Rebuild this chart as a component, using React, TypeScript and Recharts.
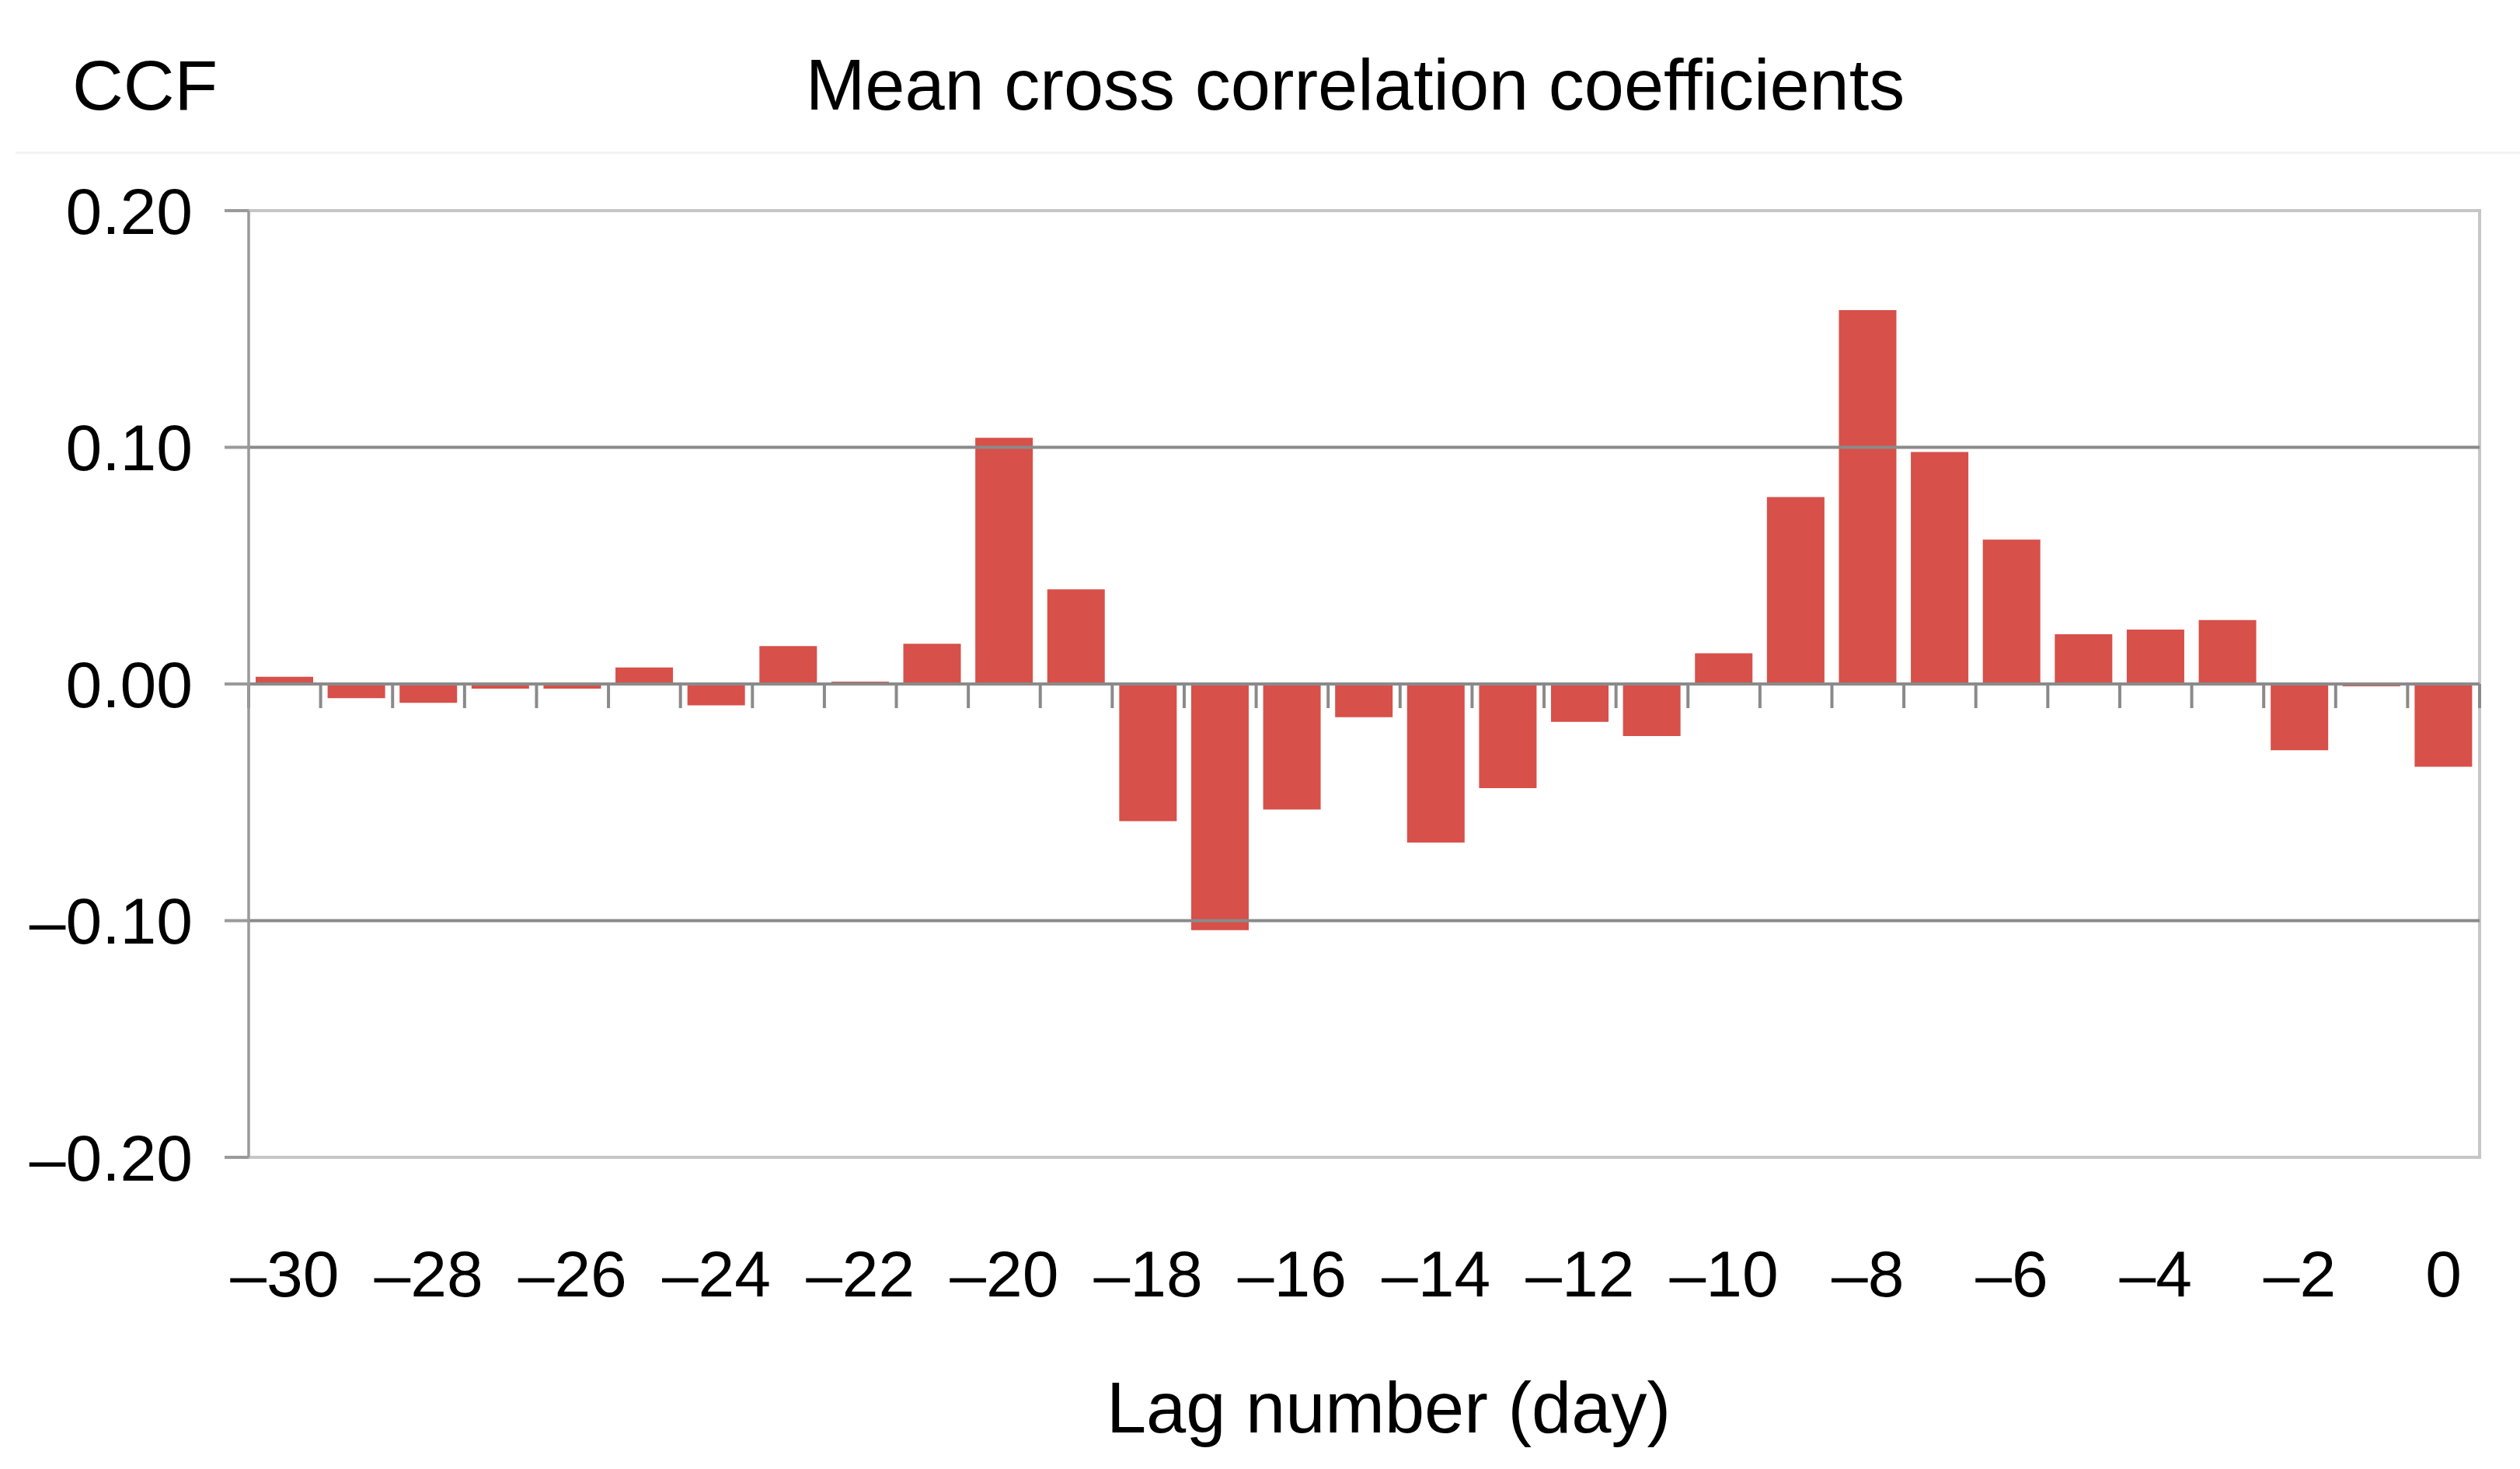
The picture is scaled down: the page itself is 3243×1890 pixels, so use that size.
import {
  Bar,
  BarChart,
  ReferenceArea,
  ReferenceLine,
  XAxis,
  YAxis,
} from "recharts";

// lag in days
const lags = [
  -30, -29, -28, -27, -26, -25, -24, -23, -22, -21, -20, -19, -18, -17, -16,
  -15, -14, -13, -12, -11, -10, -9, -8, -7, -6, -5, -4, -3, -2, -1, 0,
];

const ccf = [
  0.003, -0.006, -0.008, -0.002, -0.002, 0.007, -0.009, 0.016, 0.001, 0.017,
  0.104, 0.04, -0.058, -0.104, -0.053, -0.014, -0.067, -0.044, -0.016, -0.022,
  0.013, 0.079, 0.158, 0.098, 0.061, 0.021, 0.023, 0.027, -0.028, -0.001,
  -0.035,
];

const xTicks = [-30, -28, -26, -24, -22, -20, -18, -16, -14, -12, -10, -8, -6, -4, -2, 0];
const yTicks = [-0.2, -0.1, 0, 0.1, 0.2];
const gridValues = [-0.1, 0.1];

const data = lags.map((lag, i) => ({ lag, ccf: ccf[i] }));
// category boundaries for the little tick marks on the zero line
const boundaries = [...lags.map((l) => l - 0.5), lags[lags.length - 1] + 0.5];

const W = 3243;
const H = 1890;
const FONT = "'Liberation Sans', Arial, sans-serif";
const TICK_DROP = 0.0102;

const minus = (s: string, neg: boolean) => (neg ? "\u2013" : "") + s;
const fmtY = (v: number) => minus(Math.abs(v).toFixed(2), v < 0);
const fmtX = (v: number) => minus(String(Math.abs(v)), v < 0);

export default function App() {
  return (
    <div
      style={{
        position: "absolute",
        left: 0,
        top: 0,
        width: W,
        height: H,
        background: "#fff",
        fontFamily: FONT,
      }}
    >
      <BarChart
        width={W}
        height={H}
        data={data}
        margin={{ top: 271, right: 52, left: 0, bottom: 0 }}
      >
        <ReferenceArea
          x1={-30.5}
          x2={0.5}
          y1={-0.2}
          y2={0.2}
          fill="none"
          fillOpacity={0}
          stroke="#c6c6c6"
          strokeWidth={4}
        />
        {gridValues.map((v) => (
          <ReferenceLine key={v} y={v} stroke="#8a8a8a" strokeWidth={4} />
        ))}
        <XAxis
          type="number"
          dataKey="lag"
          domain={[-30.5, 0.5]}
          ticks={xTicks}
          tickFormatter={fmtX}
          axisLine={false}
          tickLine={false}
          tickSize={0}
          tickMargin={119}
          height={401}
          interval={0}
          tick={{ fill: "#000", fontSize: 84, fontFamily: FONT }}
        />
        <YAxis
          domain={[-0.2, 0.2]}
          ticks={yTicks}
          tickFormatter={fmtY}
          width={320}
          tickSize={31}
          tickMargin={41}
          interval={0}
          axisLine={{ stroke: "#9a9a9a", strokeWidth: 3 }}
          tickLine={{ stroke: "#9a9a9a", strokeWidth: 4 }}
          tick={{ fill: "#000", fontSize: 84, fontFamily: FONT }}
        />
        <Bar
          dataKey="ccf"
          fill="#d7504a"
          barSize={74}
          isAnimationActive={false}
        />
        <ReferenceLine y={0} stroke="#8a8a8a" strokeWidth={4} />
        {boundaries.map((b) => (
          <ReferenceLine
            key={b}
            segment={[
              { x: b, y: 0 },
              { x: b, y: -TICK_DROP },
            ]}
            stroke="#8a8a8a"
            strokeWidth={4}
          />
        ))}
      </BarChart>
      <div
        style={{
          position: "absolute",
          left: 20,
          top: 195,
          width: W - 20,
          height: 3,
          background: "#f3f3f3",
        }}
      />
      <svg
        width={W}
        height={H}
        style={{ position: "absolute", left: 0, top: 0, pointerEvents: "none" }}
      >
        <text x={93} y={141} fontSize={91} fontFamily={FONT} fill="#000">
          CCF
        </text>
        <text
          x={1744}
          y={141}
          fontSize={92}
          fontFamily={FONT}
          fill="#000"
          textAnchor="middle"
        >
          Mean cross correlation coefficients
        </text>
        <text
          x={1787}
          y={1843}
          fontSize={92}
          fontFamily={FONT}
          fill="#000"
          textAnchor="middle"
        >
          Lag number (day)
        </text>
      </svg>
    </div>
  );
}
